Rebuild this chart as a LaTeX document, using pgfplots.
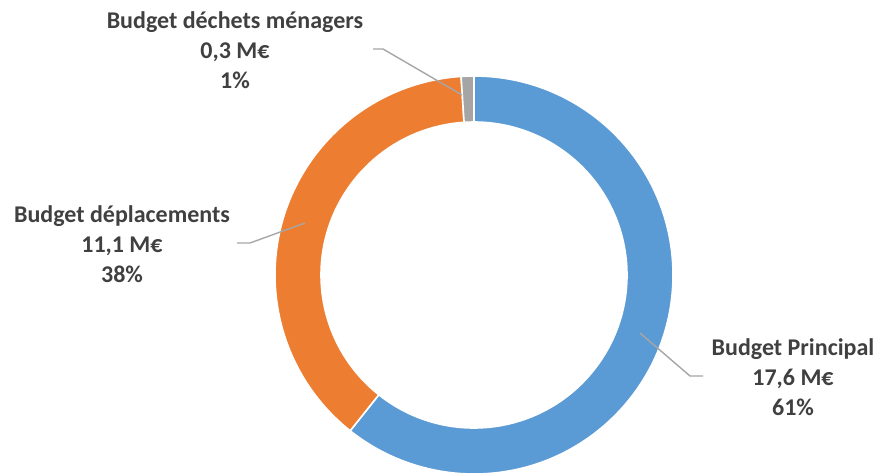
\documentclass[border=0pt]{standalone}
\usepackage{pgfplots}
\usepackage{pgfplotstable}
\pgfplotsset{compat=1.18}
\usepackage{fontspec}
\setmainfont{Carlito}
\definecolor{cBlue}{HTML}{5B9BD5}
\definecolor{cOrange}{HTML}{ED7D31}
\definecolor{cGray}{HTML}{A5A5A5}
\definecolor{cText}{HTML}{404040}
\definecolor{cLead}{HTML}{A6A6A6}
\pgfplotstableread{
label value
Principal 17.6
Deplacements 11.1
Dechets 0.3
}\budget
\pgfplotstablegetelem{0}{value}\of\budget \let\va\pgfplotsretval
\pgfplotstablegetelem{1}{value}\of\budget \let\vb\pgfplotsretval
\pgfplotstablegetelem{2}{value}\of\budget \let\vc\pgfplotsretval
\pgfmathsetmacro{\tot}{\va+\vb+\vc}
\pgfmathsetmacro{\aA}{90}
\pgfmathsetmacro{\aB}{90-360*\va/\tot}
\pgfmathsetmacro{\aC}{\aB-360*\vb/\tot}
\pgfmathsetmacro{\aD}{\aC-360*\vc/\tot}
\def\Ro{199}
\def\Ri{153}
\def\slice#1#2#3{%
  \filldraw[fill=#3, draw=white, line width=1.6pt]
    ([shift={(#1:\Ro pt)}]axis cs:474,200) arc[start angle=#1, end angle=#2, radius=\Ro pt]
    -- ([shift={(#2:\Ri pt)}]axis cs:474,200) arc[start angle=#2, end angle=#1, radius=\Ri pt]
    -- cycle;}
\begin{document}%
\begin{tikzpicture}
\begin{axis}[x=1pt, y=1pt, xmin=0, xmax=880, ymin=0, ymax=475,
  hide axis, clip=false, scale only axis]
\addplot[draw=none] coordinates {(0,0) (880,475)};
\slice{\aA}{\aB}{cBlue}
\slice{\aB}{\aC}{cOrange}
\slice{\aC}{\aD}{cGray}
\draw[cLead, line width=1.4pt] (axis cs:462,380) -- (axis cs:383,426) -- (axis cs:373,426);
\draw[cLead, line width=1.4pt] (axis cs:305,252) -- (axis cs:250,232) -- (axis cs:237,232);
\draw[cLead, line width=1.4pt] (axis cs:640,142) -- (axis cs:690,99) -- (axis cs:703,99);
\tikzset{lab/.style={align=center, text=cText, inner sep=0pt,
  font=\fontsize{24}{30}\selectfont\bfseries}}
\node[lab] at (axis cs:235,425) {Budget déchets ménagers\\0,3 M€\\1\%};
\node[lab] at (axis cs:122,231) {Budget déplacements\\11,1 M€\\38\%};
\node[lab] at (axis cs:793,98) {Budget Principal\\17,6 M€\\61\%};
\end{axis}
\end{tikzpicture}%
\end{document}
